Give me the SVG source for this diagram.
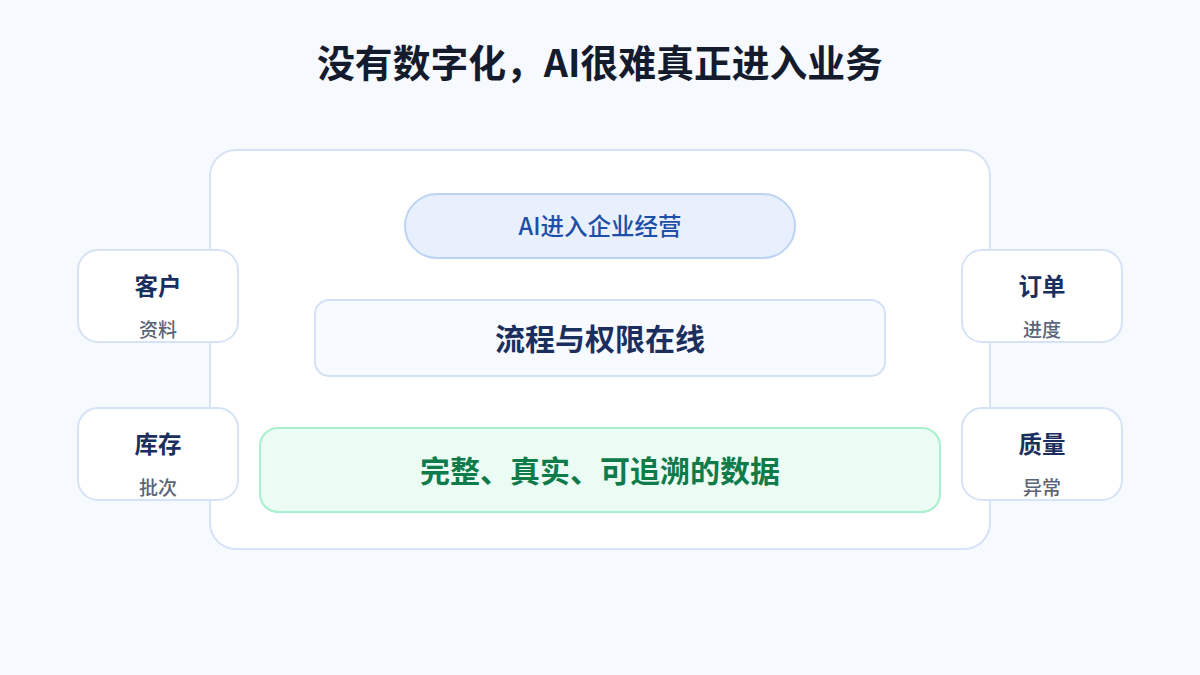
<svg xmlns="http://www.w3.org/2000/svg" width="1200" height="675" viewBox="0 0 1200 675">
<style>
text{font-family:"Noto Sans CJK SC","Noto Sans",sans-serif;text-anchor:middle;dominant-baseline:central}
.side rect{fill:#ffffff;stroke:#d6e2f5;stroke-width:2}
.st{font-size:23.5px;font-weight:700;fill:#1b2f5e}
.ss{font-size:19px;font-weight:500;fill:#5b6478}
</style>
<rect width="1200" height="675" fill="#f6f9fd"/>
<text x="600" y="60" style="font-size:37.8px;font-weight:700;fill:#141b2d">没有数字化，AI很难真正进入业务</text>
<g id="container"><rect x="210" y="150" width="780" height="399" rx="26" fill="#ffffff" stroke="#d6e2f5" stroke-width="2"/></g>
<g id="connectors"></g>
<g id="ai"><rect x="405" y="194" width="390" height="64" rx="32" fill="#e8f0fd" stroke="#bcd3f3" stroke-width="2"/><text x="600" y="225" style="font-size:23.5px;font-weight:500;fill:#1d4ea8">AI进入企业经营</text></g>
<g id="process"><rect x="315" y="300" width="570" height="76" rx="14" fill="#f7faff" stroke="#d3e1f5" stroke-width="2"/><text x="600" y="337" style="font-size:30px;font-weight:700;fill:#1b2f5e">流程与权限在线</text></g>
<g id="data"><rect x="260" y="428" width="680" height="84" rx="18" fill="#eafcf3" stroke="#a7efcd" stroke-width="2"/><text x="600" y="469" style="font-size:30px;font-weight:700;fill:#0f7a4a">完整、真实、可追溯的数据</text></g>
<g id="customer" class="side"><rect x="78" y="250" width="160" height="92" rx="20"/><text class="st" x="158" y="285">客户</text><text class="ss" x="158" y="328">资料</text></g>
<g id="inventory" class="side"><rect x="78" y="408" width="160" height="92" rx="20"/><text class="st" x="158" y="443">库存</text><text class="ss" x="158" y="486">批次</text></g>
<g id="order" class="side"><rect x="962" y="250" width="160" height="92" rx="20"/><text class="st" x="1042" y="285">订单</text><text class="ss" x="1042" y="328">进度</text></g>
<g id="quality" class="side"><rect x="962" y="408" width="160" height="92" rx="20"/><text class="st" x="1042" y="443">质量</text><text class="ss" x="1042" y="486">异常</text></g>
</svg>
